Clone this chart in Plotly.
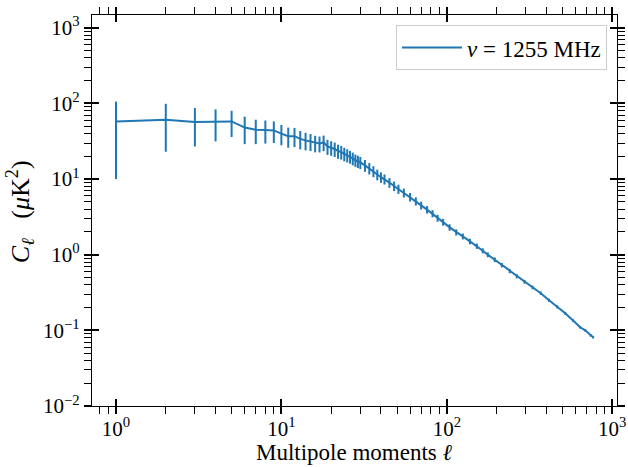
import plotly.graph_objects as go

# ---- data ----
ell = [1, 2, 3, 4, 5, 6, 7, 8, 9, 10, 11, 12, 13, 14, 15, 16, 17, 18, 19, 20,
       21, 22, 23, 24, 25, 26, 27, 28, 29, 30, 32, 34, 36, 38, 40, 42, 45, 48,
       51, 55, 60, 65, 70, 76, 82, 88, 95, 104, 114, 125, 138, 152, 165, 177,
       195, 215, 240, 265, 295, 330, 370, 415, 465, 520, 580, 640, 687, 740, 767]
cl = [58, 61, 57, 57.5, 58, 48, 45, 44.5, 44, 40, 37, 37, 34, 32.5, 31.5, 30,
      29.5, 30.5, 27, 26, 25, 23.5, 22.8, 21.6, 20.7, 19.8, 18.8, 17.8, 17.2,
      16.6, 15.2, 13.9, 12.7, 11.5, 10.6, 10.0, 9.0, 8.1, 7.4, 6.6, 5.8, 5.1,
      4.5, 3.95, 3.5, 3.05, 2.7, 2.3, 1.98, 1.75, 1.5, 1.3, 1.13, 1.0, 0.86,
      0.73, 0.61, 0.52, 0.44, 0.37, 0.31, 0.25, 0.205, 0.168, 0.135, 0.11,
      0.1, 0.086, 0.081]
cl_err = [48, 38, 30, 26, 22, 19, 16, 15, 14, 12, 11, 10.5, 9.2, 8.5, 8.0, 7.4,
          7.0, 7.1, 6.1, 5.7, 5.4, 5.0, 4.7, 4.4, 4.1, 3.8, 3.6, 3.3, 3.2, 3.0,
          2.7, 2.4, 2.1, 1.85, 1.67, 1.53, 1.33, 1.16, 1.03, 0.89, 0.75, 0.63,
          0.54, 0.45, 0.385, 0.324, 0.276, 0.225, 0.185, 0.156, 0.128, 0.105,
          0.088, 0.075, 0.0615, 0.0497, 0.0393, 0.032, 0.0256, 0.0204, 0.0161,
          0.0123, 0.0095, 0.0074, 0.0056, 0.0043, 0.0038, 0.0032, 0.0029]
series_name = "<i>ν</i> = 1255 MHz"
x_title = "Multipole moments <i>ℓ</i>"
y_title = "<i>C</i><sub><i>ℓ</i></sub>   (<i>μ</i>K<sup>2</sup>)"

x_major = [1, 10, 100, 1000]
x_major_text = ["10<sup>0</sup>", "10<sup>1</sup>", "10<sup>2</sup>", "10<sup>3</sup>"]
y_major = [0.01, 0.1, 1, 10, 100, 1000]
y_major_text = ["10<sup>−2</sup>", "10<sup>−1</sup>", "10<sup>0</sup>",
                "10<sup>1</sup>", "10<sup>2</sup>", "10<sup>3</sup>"]
x_minor = [m * 10.0 ** d for d in range(-1, 3) for m in range(2, 10)]
y_minor = [m * 10.0 ** d for d in range(-2, 3) for m in range(2, 10)]

x_range = [-0.145, 3.029]
y_range = [-2.0, 3.17]

FONT = "Liberation Serif"
BLUE = "#1f77b4"

fig = go.Figure()
fig.add_trace(go.Scatter(
    x=ell, y=cl, mode="lines", name=series_name,
    line=dict(color=BLUE, width=2),
    error_y=dict(type="data", array=cl_err, visible=True, color=BLUE,
                 thickness=2, width=0),
))
# empty helper traces so the overlay tick axes render
for xa, ya in (("x2", "y2"), ("x3", "y3")):
    fig.add_trace(go.Scatter(x=[], y=[], xaxis=xa, yaxis=ya,
                             showlegend=False, hoverinfo="skip"))

common = dict(type="log", showgrid=False, zeroline=False, showline=True,
              linecolor="black", linewidth=1.2, mirror="allticks",
              automargin=False, tickcolor="black",
              tickfont=dict(family=FONT, size=21, color="black"))

fig.update_layout(
    width=628, height=467,
    margin=dict(l=92, r=11, t=15, b=61, autoexpand=False),
    paper_bgcolor="white", plot_bgcolor="white",
    font=dict(family=FONT, size=21, color="black"),
    xaxis=dict(**common, range=x_range, tickvals=x_major, ticktext=x_major_text,
               ticks="outside", ticklen=7, tickwidth=1.8, ticklabelstandoff=-3),
    yaxis=dict(**common, range=y_range, tickvals=y_major, ticktext=y_major_text,
               ticks="outside", ticklen=7, tickwidth=1.8),
    # inner half of the major ticks
    xaxis2=dict(**common, overlaying="x", anchor="y2", range=x_range,
                tickvals=x_major, ticks="inside", ticklen=7, tickwidth=1.8,
                showticklabels=False),
    yaxis2=dict(**common, overlaying="y", anchor="x2", range=y_range,
                tickvals=y_major, ticks="inside", ticklen=7, tickwidth=1.8,
                showticklabels=False),
    # minor ticks (outside)
    xaxis3=dict(**common, overlaying="x", anchor="y3", range=x_range,
                tickvals=x_minor, ticks="outside", ticklen=7, tickwidth=1.4,
                showticklabels=False),
    yaxis3=dict(**common, overlaying="y", anchor="x3", range=y_range,
                tickvals=y_minor, ticks="outside", ticklen=7, tickwidth=1.4,
                showticklabels=False),
    showlegend=True,
    legend=dict(x=0.981, y=0.974, xanchor="right", yanchor="top",
                bgcolor="rgba(255,255,255,0.8)", bordercolor="#cccccc",
                borderwidth=1, itemwidth=60, font=dict(family=FONT, size=23)),
    annotations=[
        dict(text=x_title, xref="paper", yref="paper", x=0.5, y=-0.12,
             xanchor="center", yanchor="middle", showarrow=False,
             font=dict(family=FONT, size=23, color="black")),
        dict(text=y_title, xref="paper", yref="paper", x=-0.137, y=0.496,
             xanchor="center", yanchor="middle", textangle=-90, showarrow=False,
             font=dict(family=FONT, size=26, color="black")),
    ],
)

fig.write_html("out.html", config={"displayModeBar": False},
               post_script="document.body.style.margin='0';document.body.style.padding='0';")
